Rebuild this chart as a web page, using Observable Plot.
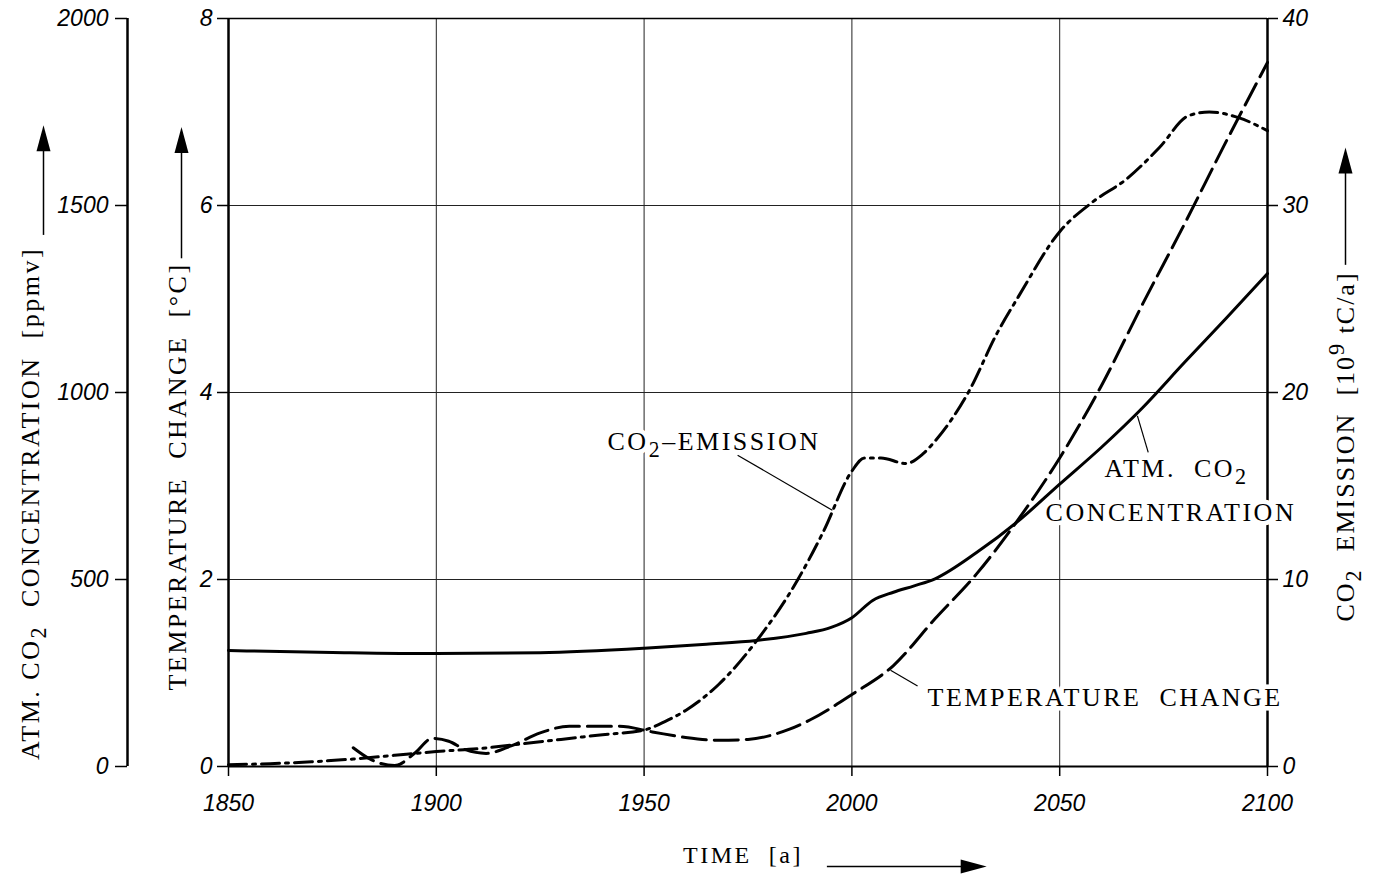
<!DOCTYPE html>
<html><head><meta charset="utf-8">
<script src="https://cdn.jsdelivr.net/npm/d3@7"></script>
<script src="https://cdn.jsdelivr.net/npm/@observablehq/plot@0.6"></script>
<style>
body{margin:0;background:#fff;}
svg text{white-space:pre;}
</style>
</head><body><div id="chart"></div>
<script>
// ---- tick values ----
const yearTicks = [1850, 1900, 1950, 2000, 2050, 2100];
const gridYears = [1900, 1950, 2000, 2050];
const tempTicks = [0, 2, 4, 6, 8];
const gridTemps = [2, 4, 6];
const ppmTicks = [0, 500, 1000, 1500, 2000];
const emissionTicks = [0, 10, 20, 30, 40];

// ---- series ----
const co2Years = [1850, 1875, 1900, 1925, 1950, 1965, 1977, 1989, 1995, 2000, 2005, 2010, 2015, 2020, 2030, 2040, 2050, 2060, 2070, 2080, 2090, 2100];
const co2Ppmv  = [310, 305, 302, 304, 316, 327, 337, 356, 372, 398, 444, 466, 483, 502, 572, 656, 755, 853, 960, 1080, 1198, 1318];

const tempYears  = [1880, 1884, 1890, 1895, 1899, 1903, 1907, 1912, 1918, 1925, 1932, 1944, 1952, 1960, 1968, 1975, 1985, 1990, 2000, 2010, 2020, 2030, 2040, 2050, 2060, 2070, 2080, 2090, 2100];
const tempChange = [0.2, 0.08, 0.01, 0.15, 0.3, 0.27, 0.18, 0.14, 0.22, 0.36, 0.43, 0.43, 0.37, 0.31, 0.28, 0.29, 0.4, 0.5, 0.77, 1.08, 1.58, 2.06, 2.64, 3.3, 4.07, 4.95, 5.8, 6.68, 7.53];

const emisYears = [1850, 1860, 1870, 1880, 1890, 1900, 1910, 1920, 1930, 1940, 1950, 1955, 1960, 1968, 1977, 1987, 1993, 2000, 2003, 2007, 2013, 2017, 2020, 2028, 2035, 2040, 2050, 2058, 2066, 2074, 2081, 2086, 2093, 2100];
const emission  = [0.1, 0.15, 0.25, 0.4, 0.6, 0.8, 0.95, 1.2, 1.45, 1.7, 1.95, 2.4, 3.0, 4.4, 6.7, 10.0, 12.5, 15.8, 16.5, 16.5, 16.2, 16.7, 17.4, 20.0, 23.2, 25.1, 28.6, 30.2, 31.4, 33.1, 34.8, 35.0, 34.7, 34.0];

// ---- texts ----
const ppmTitle = "ATM. CO₂  CONCENTRATION  [ppmv]";
const tempTitle = "TEMPERATURE  CHANGE  [°C]";
const emisTitle = "CO₂  EMISSION  [10⁹ tC/a]";
const timeTitle = "TIME  [a]";
const emisLabel = "CO₂–EMISSION";
const co2Label1 = "ATM.  CO₂";
const co2Label2 = "CONCENTRATION";
const tempLabel = "TEMPERATURE  CHANGE";
const spacedTexts = new Set([ppmTitle, tempTitle, emisTitle, timeTitle, emisLabel, co2Label1, co2Label2, tempLabel]);

// all series share the temperature (left, 0–8) scale
const PPM_PER_UNIT = 250, EMIS_PER_UNIT = 5;
const co2Data = co2Years.map((year, i) => ({year, v: co2Ppmv[i] / PPM_PER_UNIT}));
const tempData = tempYears.map((year, i) => ({year, v: tempChange[i]}));
const emisData = emisYears.map((year, i) => ({year, v: emission[i] / EMIS_PER_UNIT}));

const tickFont = {fontFamily: "Liberation Sans", fontStyle: "italic", fontSize: 23};
const serif = {fontFamily: "Liberation Serif", fontSize: 26, fill: "black"};
const halo = {stroke: "white", strokeWidth: 9};
const arrowHead = {draw(ctx) { ctx.moveTo(0, -13); ctx.lineTo(7, 13); ctx.lineTo(-7, 13); ctx.closePath(); }};

const svg = Plot.plot({
  width: 1375, height: 882,
  marginLeft: 228, marginRight: 108, marginTop: 18, marginBottom: 116,
  x: {domain: [1850, 2100], label: null},
  y: {domain: [0, 8], label: null},
  style: {background: "white", color: "black", overflow: "visible"},
  marks: [
    Plot.gridX(gridYears, {stroke: "#222", strokeOpacity: 1, strokeWidth: 1}),
    Plot.gridY(gridTemps, {stroke: "#222", strokeOpacity: 1, strokeWidth: 1}),
    Plot.ruleY([8], {strokeWidth: 1.5}),
    Plot.ruleY([0], {strokeWidth: 2}),
    Plot.ruleX([1850], {strokeWidth: 2.5}),
    Plot.ruleX([2100], {strokeWidth: 2.5}),
    Plot.ruleX([1850], {strokeWidth: 2.5, dx: -101}),

    Plot.axisX({ticks: yearTicks, tickSize: 10, tickPadding: 18, tickFormat: d => String(d), label: null, strokeWidth: 1.5, ...tickFont}),
    Plot.axisY({anchor: "left", ticks: tempTicks, tickSize: 11, tickPadding: 5, tickFormat: d => String(d), label: null, strokeWidth: 1.5, ...tickFont}),
    Plot.axisY({anchor: "left", ticks: ppmTicks.map(d => d / PPM_PER_UNIT), tickSize: 12, tickPadding: 7, dx: -101, tickFormat: d => String(Math.round(d * PPM_PER_UNIT)), label: null, strokeWidth: 1.5, ...tickFont}),
    Plot.axisY({anchor: "right", ticks: emissionTicks.map(d => d / EMIS_PER_UNIT), tickSize: 10, tickPadding: 5, tickFormat: d => String(Math.round(d * EMIS_PER_UNIT)), label: null, strokeWidth: 1.5, ...tickFont}),

    Plot.line(co2Data, {x: "year", y: "v", strokeWidth: 3, curve: "monotone-x"}),
    Plot.line(tempData, {x: "year", y: "v", strokeWidth: 3, strokeDasharray: "24,8", curve: "monotone-x"}),
    Plot.line(emisData, {x: "year", y: "v", strokeWidth: 3, strokeDasharray: "18,6,3,6", curve: "monotone-x"}),

    // leader lines
    Plot.link([emisLabel], {x1: 1972.5, y1: 3.33, x2: 1995.3, y2: 2.74, strokeWidth: 1.2}),
    Plot.link([co2Label1], {x1: 2068.7, y1: 3.75, x2: 2071.3, y2: 3.36, strokeWidth: 1.2}),
    Plot.link([tempLabel], {x1: 2009.3, y1: 1.03, x2: 2015.8, y2: 0.86, strokeWidth: 1.2}),

    // curve labels
    Plot.text([emisLabel], {x: 1941.2, y: 3.47, text: d => d, textAnchor: "start", ...serif, ...halo}),
    Plot.text([co2Label1], {x: 2060.8, y: 3.19, text: d => d, textAnchor: "start", ...serif, ...halo}),
    Plot.text([co2Label2], {x: 2046.6, y: 2.72, text: d => d, textAnchor: "start", ...serif, ...halo}),
    Plot.text([tempLabel], {x: 2018.2, y: 0.74, text: d => d, textAnchor: "start", ...serif, ...halo}),

    // axis titles
    Plot.text([ppmTitle], {frameAnchor: "left", dx: -198, dy: 111, rotate: -90, textAnchor: "middle", text: d => d, ...serif}),
    Plot.text([tempTitle], {frameAnchor: "left", dx: -51, dy: 84, rotate: -90, textAnchor: "middle", text: d => d, ...serif}),
    Plot.text([emisTitle], {frameAnchor: "right", dx: 78, dy: 54, rotate: -90, textAnchor: "middle", text: d => d, ...serif}),
    Plot.text([timeTitle], {frameAnchor: "bottom", dx: -5, dy: 96, textAnchor: "middle", text: d => d, ...serif, fontSize: 24}),

    // arrows
    Plot.ruleX([1850], {y1: 5.68, y2: 6.6, dx: -185, strokeWidth: 1.5}),
    Plot.dot([ppmTitle], {x: 1850, y: 6.72, dx: -185, symbol: arrowHead, fill: "black", stroke: null}),
    Plot.ruleX([1850], {y1: 5.43, y2: 6.6, dx: -47, strokeWidth: 1.5}),
    Plot.dot([tempTitle], {x: 1850, y: 6.70, dx: -47, symbol: arrowHead, fill: "black", stroke: null}),
    Plot.ruleX([2100], {y1: 5.36, y2: 6.36, dx: 78, strokeWidth: 1.5}),
    Plot.dot([emisTitle], {x: 2100, y: 6.48, dx: 78, symbol: arrowHead, fill: "black", stroke: null}),
    Plot.ruleY([0], {x1: 1994.1, x2: 2026.5, dy: 100, strokeWidth: 1.5}),
    Plot.dot([timeTitle], {x: 2029.3, y: 0, dy: 100, symbol: arrowHead, rotate: 90, fill: "black", stroke: null})
  ]
});

// letter-spacing for the serif labels, and sub/superscript digits
d3.select(svg).selectAll("text").each(function() {
  const t = this.textContent;
  if (!spacedTexts.has(t)) return;
  const el = d3.select(this);
  el.style("letter-spacing", t === emisTitle ? "2px" : "2.5px");
  if (!/[₂⁹]/.test(t)) return;
  const segs = [];
  for (const ch of t) {
    const kind = ch === "₂" ? "sub" : ch === "⁹" ? "sup" : "normal";
    const c = ch === "₂" ? "2" : ch === "⁹" ? "9" : ch;
    if (kind === "normal" && segs.length && segs[segs.length - 1].kind === "normal") segs[segs.length - 1].text += c;
    else segs.push({kind, text: c});
  }
  el.text(null);
  let cur = 0;
  for (const s of segs) {
    const target = s.kind === "sub" ? 7 : s.kind === "sup" ? -10 : 0;
    const ts = el.append("tspan").text(s.text);
    if (target !== cur) ts.attr("dy", target - cur);
    if (s.kind !== "normal") ts.attr("font-size", "0.85em");
    cur = target;
  }
});

document.getElementById("chart").appendChild(svg);
</script>
</body></html>
